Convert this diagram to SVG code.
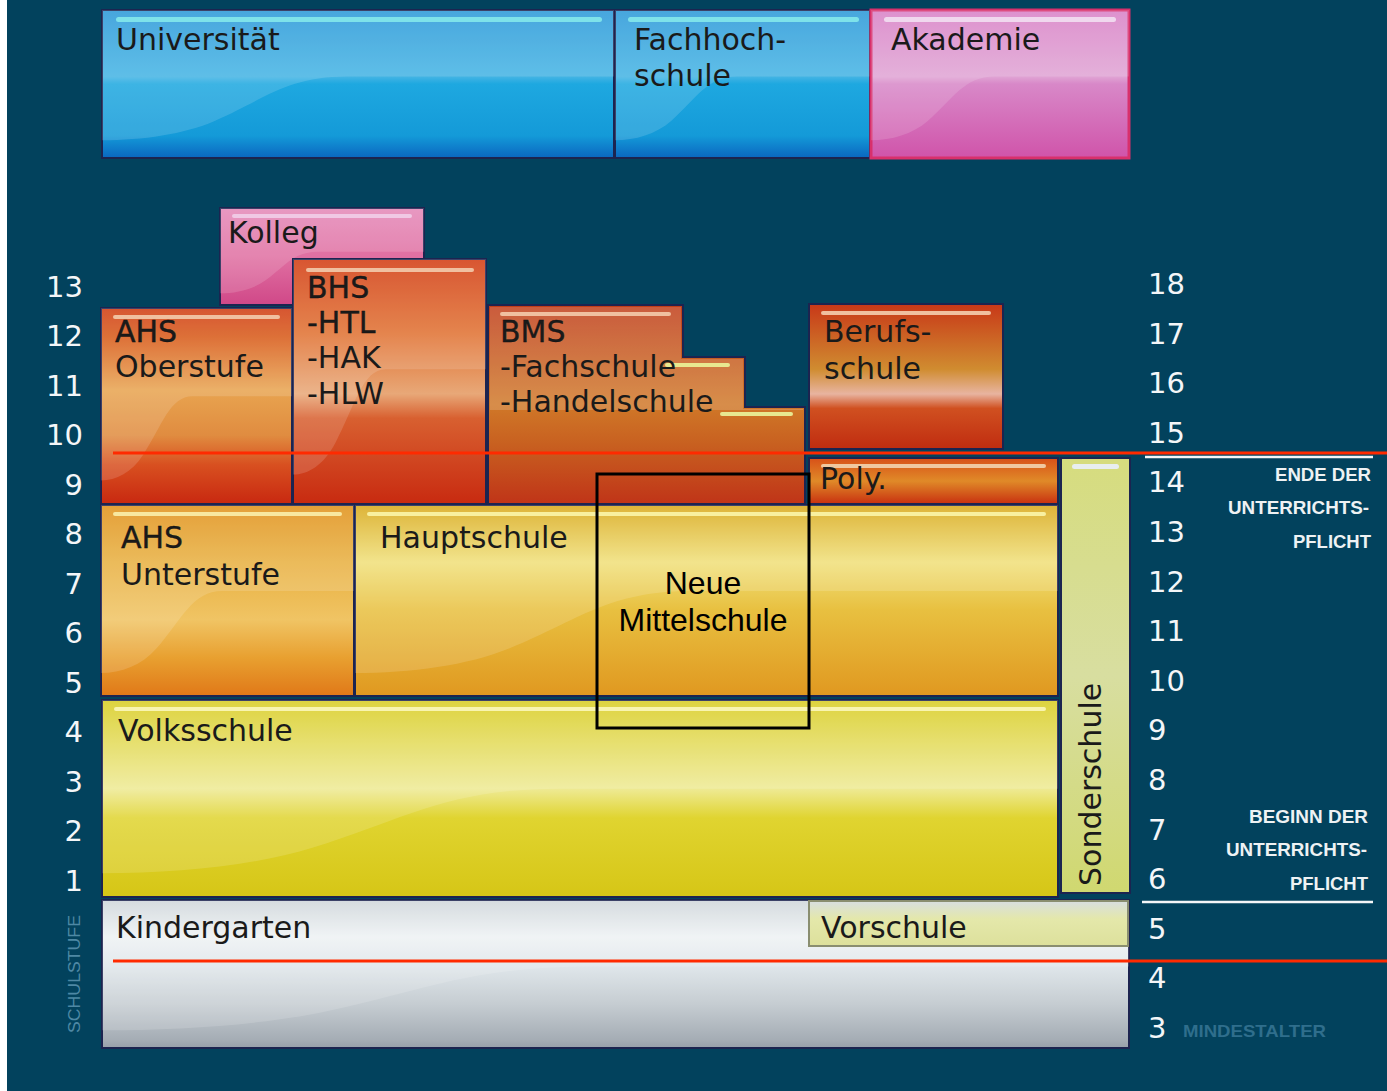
<svg xmlns="http://www.w3.org/2000/svg" xmlns:xlink="http://www.w3.org/1999/xlink" width="1387" height="1091" viewBox="0 0 1387 1091">
<style>
.lbl{font-family:"DejaVu Sans",Verdana,sans-serif;font-size:30px;fill:#1a1a1a}
.num{font-family:"DejaVu Sans",Verdana,sans-serif;font-size:29px;fill:#f4f6f8}
.nl{text-anchor:end}
.side{font-family:"Liberation Sans",Arial,sans-serif;font-size:18px;font-weight:bold;fill:#eef2f4;text-anchor:end}
.box{stroke:#1c2450;stroke-width:2}
.red{stroke:#ff2a00;stroke-width:3}
.wl{stroke:#f4f6f8;stroke-width:2.5}
.nms{font-family:"Liberation Sans",Arial,sans-serif;font-size:32px;fill:#000;text-anchor:middle}
</style>
<defs>
<linearGradient id="gBlue" x1="0" y1="0" x2="0" y2="1">
<stop offset="0" stop-color="#2a98d8"/><stop offset="0.45" stop-color="#44b4e4"/><stop offset="0.5" stop-color="#1ea8e0"/><stop offset="0.85" stop-color="#149ad8"/><stop offset="1" stop-color="#0a66c0"/></linearGradient>
<linearGradient id="gAka" x1="0" y1="0" x2="0" y2="1">
<stop offset="0" stop-color="#d880c6"/><stop offset="0.45" stop-color="#e0a4d4"/><stop offset="0.5" stop-color="#d888c8"/><stop offset="1" stop-color="#d054aa"/></linearGradient>
<linearGradient id="gKol" x1="0" y1="0" x2="0" y2="1">
<stop offset="0" stop-color="#e488b8"/><stop offset="0.5" stop-color="#e070a2"/><stop offset="1" stop-color="#d04888"/></linearGradient>
<linearGradient id="gOb" x1="0" y1="0" x2="0" y2="1">
<stop offset="0" stop-color="#d03a10"/><stop offset="0.15" stop-color="#d85a18"/><stop offset="0.42" stop-color="#e8a450"/><stop offset="0.65" stop-color="#e08c40"/><stop offset="0.8" stop-color="#d85020"/><stop offset="1" stop-color="#c82810"/></linearGradient>
<linearGradient id="gBhs" x1="0" y1="0" x2="0" y2="1">
<stop offset="0" stop-color="#d23a10"/><stop offset="0.3" stop-color="#e07030"/><stop offset="0.55" stop-color="#e8a878"/><stop offset="0.65" stop-color="#d86030"/><stop offset="1" stop-color="#c82a10"/></linearGradient>
<linearGradient id="gBms" x1="0" y1="0" x2="0" y2="1">
<stop offset="0" stop-color="#c03c18"/><stop offset="0.3" stop-color="#c86020"/><stop offset="0.5" stop-color="#d07828"/><stop offset="0.7" stop-color="#c86020"/><stop offset="1" stop-color="#c03418"/></linearGradient>
<linearGradient id="gBer" x1="0" y1="0" x2="0" y2="1">
<stop offset="0" stop-color="#c83818"/><stop offset="0.45" stop-color="#d08c30"/><stop offset="0.62" stop-color="#e8b4a0"/><stop offset="0.72" stop-color="#d05020"/><stop offset="1" stop-color="#c02c10"/></linearGradient>
<linearGradient id="gPoly" x1="0" y1="0" x2="0" y2="1">
<stop offset="0" stop-color="#d85018"/><stop offset="0.5" stop-color="#e08a28"/><stop offset="1" stop-color="#c83010"/></linearGradient>
<linearGradient id="gUnt" x1="0" y1="0" x2="0" y2="1">
<stop offset="0" stop-color="#e09018"/><stop offset="0.3" stop-color="#e8b040"/><stop offset="0.6" stop-color="#f0c464"/><stop offset="0.8" stop-color="#e8a030"/><stop offset="1" stop-color="#e07818"/></linearGradient>
<linearGradient id="gHs" x1="0" y1="0" x2="0" y2="1">
<stop offset="0" stop-color="#d8a818"/><stop offset="0.3" stop-color="#f0e07a"/><stop offset="0.55" stop-color="#e8c040"/><stop offset="1" stop-color="#e09820"/></linearGradient>
<linearGradient id="gVs" x1="0" y1="0" x2="0" y2="1">
<stop offset="0" stop-color="#d8cc20"/><stop offset="0.45" stop-color="#eeea94"/><stop offset="0.6" stop-color="#e0d430"/><stop offset="1" stop-color="#d6c616"/></linearGradient>
<linearGradient id="gSon" x1="0" y1="0" x2="0" y2="1">
<stop offset="0" stop-color="#d6dc7e"/><stop offset="0.5" stop-color="#d8dea0"/><stop offset="1" stop-color="#d0d870"/></linearGradient>
<linearGradient id="gKg" x1="0" y1="0" x2="0" y2="1">
<stop offset="0" stop-color="#cfd6da"/><stop offset="0.25" stop-color="#eef2f4"/><stop offset="0.45" stop-color="#dfe6ea"/><stop offset="0.7" stop-color="#c6cdd2"/><stop offset="0.95" stop-color="#a4acb4"/><stop offset="1" stop-color="#98a0aa"/></linearGradient>
<linearGradient id="gVor" x1="0" y1="0" x2="0" y2="1">
<stop offset="0" stop-color="#d8dee0"/><stop offset="0.4" stop-color="#e4e8aa"/><stop offset="1" stop-color="#dde09c"/></linearGradient>
<symbol id="gloss" viewBox="0 0 100 100" preserveAspectRatio="none">
<path d="M0,0 H100 V45 H48 C36,45 32,60 22,75 C16,84 8,88 0,88 Z" fill="#ffffff" opacity="0.14"/>
</symbol>
</defs>
<rect x="0" y="0" width="1387" height="1091" fill="#02425d"/>
<rect x="0" y="0" width="7" height="1091" fill="#ffffff"/>

<g id="universitaet">
<rect class="box" x="102" y="10" width="512" height="148" fill="url(#gBlue)"/>
<use xlink:href="#gloss" x="102" y="10" width="512" height="148"/>
<rect x="116" y="17" width="486" height="5" rx="2.5" fill="#7ee2ea"/>
<text class="lbl" x="116" y="50">Universität</text>
</g>
<g id="fachhochschule">
<rect class="box" x="615" y="10" width="255" height="148" fill="url(#gBlue)"/>
<use xlink:href="#gloss" x="615" y="10" width="255" height="148"/>
<rect x="628" y="17" width="231" height="5" rx="2.5" fill="#7ee2ea"/>
<text class="lbl" x="634" y="50" fill="#2a3a44">Fachhoch-</text>
<text class="lbl" x="634" y="86">schule</text>
</g>
<g id="akademie">
<rect x="871" y="10" width="258" height="148" fill="url(#gAka)" stroke="#d8306c" stroke-width="3"/>
<use xlink:href="#gloss" x="871" y="10" width="258" height="148"/>
<rect x="884" y="17" width="232" height="5" rx="2.5" fill="#f0d8ee"/>
<text class="lbl" x="891" y="50" fill="#3a2a3a">Akademie</text>
</g>

<g id="kolleg">
<rect class="box" x="220" y="208" width="204" height="97" fill="url(#gKol)" stroke="#b82060"/>
<use xlink:href="#gloss" x="220" y="208" width="204" height="97"/>
<rect x="232" y="214" width="180" height="4" rx="2" fill="#f0c8e4"/>
<text class="lbl" x="228" y="243">Kolleg</text>
</g>
<g id="ahs-oberstufe">
<rect class="box" x="101" y="308" width="191" height="196" fill="url(#gOb)"/>
<use xlink:href="#gloss" x="101" y="308" width="191" height="196"/>
<rect x="113" y="315" width="167" height="4" rx="2" fill="#f0c0a0"/>
<text class="lbl" x="115" y="342" fill="#111" stroke="#111" stroke-width="0.4">AHS</text>
<text class="lbl" x="115" y="377" fill="#2a2a2a">Oberstufe</text>
</g>
<g id="bhs">
<rect class="box" x="293" y="259" width="193" height="245" fill="url(#gBhs)"/>
<use xlink:href="#gloss" x="293" y="259" width="193" height="245"/>
<rect x="306" y="268" width="168" height="4" rx="2" fill="#f0c0a0"/>
<text class="lbl" x="307" y="298" fill="#111" stroke="#111" stroke-width="0.4">BHS</text>
<text class="lbl" x="307" y="333" fill="#111" stroke="#111" stroke-width="0.3">-HTL</text>
<text class="lbl" x="307" y="368" fill="#222">-HAK</text>
<text class="lbl" x="307" y="404" fill="#333">-HLW</text>
</g>
<g id="bms">
<path class="box" d="M488,305 H683 V357 H745 V407 H805 V504 H488 Z" fill="url(#gBms)"/>
<path d="M490,307 H681 V359 H743 V409 H803 V410 H490 Z" fill="#ffffff" opacity="0.16"/>
<rect x="500" y="312" width="171" height="4" rx="2" fill="#f0c0a0"/>
<rect x="665" y="363" width="65" height="4" rx="2" fill="#e8e890"/>
<rect x="720" y="412" width="73" height="4" rx="2" fill="#e8e890"/>
<text class="lbl" x="500" y="342" fill="#111" stroke="#111" stroke-width="0.3">BMS</text>
<text class="lbl" x="500" y="377" fill="#3a3a3a">-Fachschule</text>
<text class="lbl" x="500" y="412" fill="#6a6a6a">-Handelschule</text>
</g>
<g id="berufsschule">
<rect class="box" x="809" y="304" width="194" height="145" fill="url(#gBer)"/>
<rect x="821" y="311" width="170" height="4" rx="2" fill="#f0c0a0"/>
<text class="lbl" x="824" y="342">Berufs-</text>
<text class="lbl" x="824" y="379">schule</text>
</g>
<g id="poly">
<rect class="box" x="809" y="458" width="249" height="46" fill="url(#gPoly)"/>
<rect x="821" y="464" width="225" height="4" rx="2" fill="#f0c8a0"/>
<text class="lbl" x="820" y="489" fill="#111">Poly.</text>
</g>

<g id="ahs-unterstufe">
<rect class="box" x="101" y="505" width="253" height="191" fill="url(#gUnt)"/>
<use xlink:href="#gloss" x="101" y="505" width="253" height="191"/>
<rect x="113" y="512" width="229" height="4" rx="2" fill="#f8e8a0"/>
<text class="lbl" x="121" y="548" fill="#111" stroke="#111" stroke-width="0.3">AHS</text>
<text class="lbl" x="121" y="585" fill="#2a2a2a">Unterstufe</text>
</g>
<g id="hauptschule">
<rect class="box" x="355" y="505" width="703" height="191" fill="url(#gHs)"/>
<use xlink:href="#gloss" x="355" y="505" width="703" height="191"/>
<rect x="367" y="512" width="679" height="4" rx="2" fill="#f8f0a0"/>
<text class="lbl" x="380" y="548" fill="#222">Hauptschule</text>
</g>
<g id="volksschule">
<rect class="box" x="102" y="700" width="956" height="197" fill="url(#gVs)"/>
<use xlink:href="#gloss" x="102" y="700" width="956" height="197"/>
<rect x="114" y="707" width="932" height="4" rx="2" fill="#f8f4b0"/>
<text class="lbl" x="118" y="741" fill="#222">Volksschule</text>
</g>
<g id="sonderschule">
<rect class="box" x="1061" y="458" width="69" height="435" fill="url(#gSon)"/>
<rect x="1072" y="464" width="47" height="5" rx="2.5" fill="#e8eef0"/>
<text class="lbl" transform="translate(1101,886) rotate(-90)" fill="#111">Sonderschule</text>
</g>
<g id="kindergarten">
<rect class="box" x="102" y="900" width="1027" height="148" fill="url(#gKg)"/>
<use xlink:href="#gloss" x="102" y="900" width="1027" height="148"/>
<text class="lbl" x="116" y="938" fill="#222">Kindergarten</text>
</g>
<g id="vorschule">
<rect x="809" y="901" width="319" height="45" fill="url(#gVor)" stroke="#8a8e70" stroke-width="2"/>
<text class="lbl" x="821" y="938" fill="#222">Vorschule</text>
</g>

<g id="connectors">
<line class="red" x1="113" y1="453" x2="1387" y2="453"/>
<line class="red" x1="113" y1="961" x2="1387" y2="961"/>
<line class="wl" x1="1145" y1="457" x2="1373" y2="457"/>
<line class="wl" x1="1142" y1="902" x2="1373" y2="902"/>
</g>

<g id="neue-mittelschule">
<rect x="597" y="474" width="212" height="254" fill="none" stroke="#000" stroke-width="3"/>
<text class="nms" x="703" y="594">Neue</text>
<text class="nms" x="703" y="631">Mittelschule</text>
</g>

<g id="schulstufe">
<text class="num nl" x="83" y="297">13</text>
<text class="num nl" x="83" y="346">12</text>
<text class="num nl" x="83" y="396">11</text>
<text class="num nl" x="83" y="445">10</text>
<text class="num nl" x="83" y="495">9</text>
<text class="num nl" x="83" y="544">8</text>
<text class="num nl" x="83" y="594">7</text>
<text class="num nl" x="83" y="643">6</text>
<text class="num nl" x="83" y="693">5</text>
<text class="num nl" x="83" y="742">4</text>
<text class="num nl" x="83" y="792">3</text>
<text class="num nl" x="83" y="841">2</text>
<text class="num nl" x="83" y="891">1</text>
<text transform="translate(80,1033) rotate(-90)" font-family="Liberation Sans, Arial, sans-serif" font-size="17" fill="#4e88a4" textLength="118" lengthAdjust="spacingAndGlyphs">SCHULSTUFE</text>
</g>
<g id="alter">
<text class="num" x="1148" y="294">18</text>
<text class="num" x="1148" y="344">17</text>
<text class="num" x="1148" y="393">16</text>
<text class="num" x="1148" y="443">15</text>
<text class="num" x="1148" y="492">14</text>
<text class="num" x="1148" y="542">13</text>
<text class="num" x="1148" y="592">12</text>
<text class="num" x="1148" y="641">11</text>
<text class="num" x="1148" y="691">10</text>
<text class="num" x="1148" y="740">9</text>
<text class="num" x="1148" y="790">8</text>
<text class="num" x="1148" y="840">7</text>
<text class="num" x="1148" y="889">6</text>
<text class="num" x="1148" y="939">5</text>
<text class="num" x="1148" y="988">4</text>
<text class="num" x="1148" y="1038">3</text>
<text x="1183" y="1037" font-family="Liberation Sans, Arial, sans-serif" font-size="17" font-weight="bold" fill="#2f6e8c" textLength="143" lengthAdjust="spacingAndGlyphs">MINDESTALTER</text>
<text class="side" x="1371" y="481" textLength="96" lengthAdjust="spacingAndGlyphs">ENDE DER</text>
<text class="side" x="1369" y="514" textLength="141" lengthAdjust="spacingAndGlyphs">UNTERRICHTS-</text>
<text class="side" x="1371" y="548" textLength="78" lengthAdjust="spacingAndGlyphs">PFLICHT</text>
<text class="side" x="1368" y="823" textLength="119" lengthAdjust="spacingAndGlyphs">BEGINN DER</text>
<text class="side" x="1367" y="856" textLength="141" lengthAdjust="spacingAndGlyphs">UNTERRICHTS-</text>
<text class="side" x="1368" y="890" textLength="78" lengthAdjust="spacingAndGlyphs">PFLICHT</text>
</g>
</svg>
